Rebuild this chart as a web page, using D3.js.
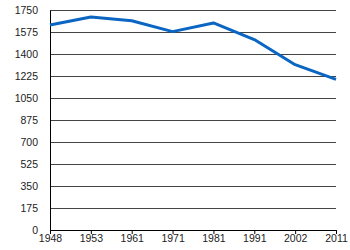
<!DOCTYPE html>
<html>
<head>
<meta charset="utf-8">
<script src="https://cdn.jsdelivr.net/npm/d3@7"></script>
<style>
  body { margin: 0; background: #fff; }
  .tick text { font-family: "Liberation Sans", Arial, sans-serif; font-size: 10.5px; fill: #222; }
</style>
</head>
<body>
<div id="chart"></div>
<script>
var years = ["1948", "1953", "1961", "1971", "1981", "1991", "2002", "2011"];
var values = [1630, 1695, 1665, 1578, 1647, 1515, 1315, 1198];
var yTicks = [0, 175, 350, 525, 700, 875, 1050, 1225, 1400, 1575, 1750];

var svgWidth = 350;
var svgHeight = 250;
var margin = { top: 10, right: 14, bottom: 20, left: 50 };
var width = svgWidth - margin.left - margin.right;
var height = svgHeight - margin.top - margin.bottom;

var svg = d3.select("#chart")
  .append("svg")
  .attr("width", svgWidth)
  .attr("height", svgHeight);

var chartGroup = svg.append("g")
  .attr("transform", `translate(${margin.left}, ${margin.top})`);

var xScale = d3.scalePoint()
  .domain(years)
  .range([0, width]);

var yScale = d3.scaleLinear()
  .domain([0, 1750])
  .range([height, 0]);

// horizontal gridlines
chartGroup.append("g")
  .selectAll("line")
  .data(yTicks.filter(d => d > 0))
  .enter()
  .append("line")
  .attr("x1", 0)
  .attr("x2", width)
  .attr("y1", d => Math.round(yScale(d)) + 0.5)
  .attr("y2", d => Math.round(yScale(d)) + 0.5)
  .attr("stroke", "#444")
  .attr("stroke-width", 1);

// y axis
var leftAxis = d3.axisLeft(yScale)
  .tickValues(yTicks)
  .tickFormat(d3.format("d"))
  .tickSize(0)
  .tickPadding(12);

var yAxis = chartGroup.append("g")
  .call(leftAxis);
yAxis.select(".domain").attr("stroke", "#000");

// x axis
var bottomAxis = d3.axisBottom(xScale)
  .tickSize(4)
  .tickPadding(1);

var xAxis = chartGroup.append("g")
  .attr("transform", `translate(0, ${height})`)
  .call(bottomAxis);
xAxis.select(".domain").attr("stroke", "#000");
xAxis.selectAll(".tick line").attr("stroke", "#000");

// line
var line = d3.line()
  .x((d, i) => xScale(years[i]))
  .y(d => yScale(d));

chartGroup.append("path")
  .datum(values)
  .attr("d", line)
  .attr("fill", "none")
  .attr("stroke", "#0a66c2")
  .attr("stroke-width", 3)
  .attr("stroke-linejoin", "round");
</script>
</body>
</html>
